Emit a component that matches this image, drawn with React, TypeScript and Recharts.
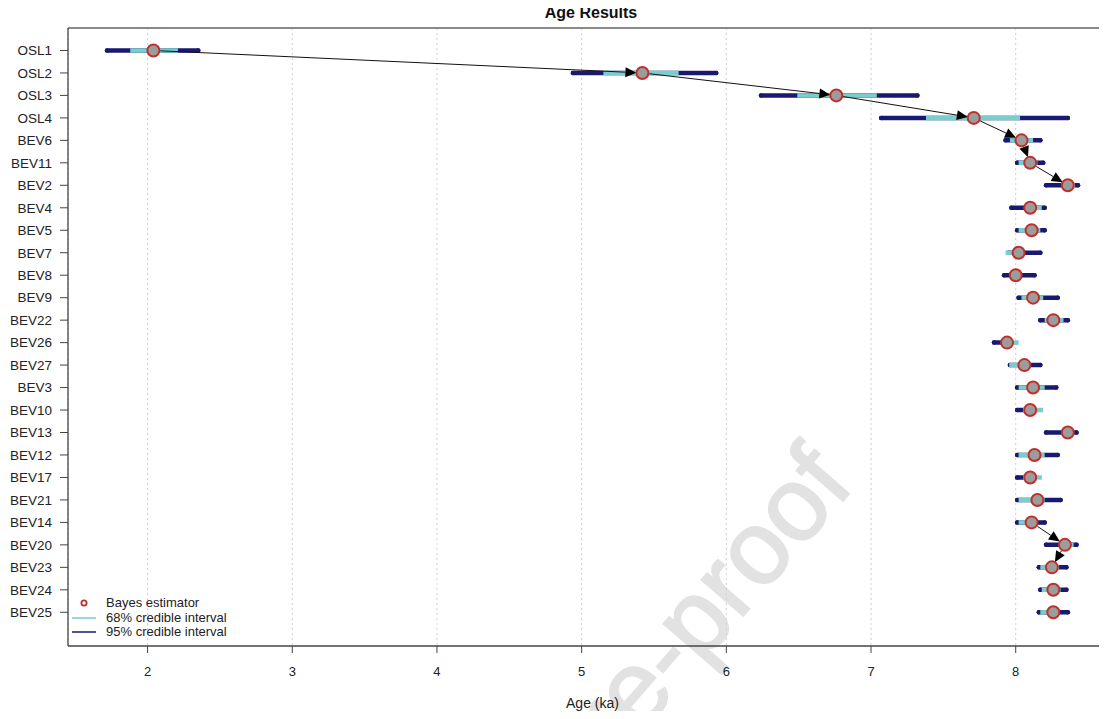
import React from "react";
import {
  ComposedChart,
  Scatter,
  ErrorBar,
  XAxis,
  YAxis,
  CartesianGrid,
  ReferenceLine,
  Legend,
} from "recharts";

// sample names, top to bottom
const samples = [
  "OSL1", "OSL2", "OSL3", "OSL4", "BEV6", "BEV11", "BEV2", "BEV4", "BEV5",
  "BEV7", "BEV8", "BEV9", "BEV22", "BEV26", "BEV27", "BEV3", "BEV10", "BEV13",
  "BEV12", "BEV17", "BEV21", "BEV14", "BEV20", "BEV23", "BEV24", "BEV25",
];

// Bayes estimator (ka)
const estimate = [
  2.04, 5.42, 6.76, 7.71, 8.04, 8.10, 8.36, 8.10, 8.11, 8.02, 8.00, 8.12, 8.26,
  7.94, 8.06, 8.12, 8.10, 8.36, 8.13, 8.10, 8.15, 8.11, 8.34, 8.25, 8.26, 8.26,
];

// 68% credible interval
const ci68Low = [
  1.88, 5.15, 6.49, 7.38, 7.96, 8.02, 8.33, 8.06, 8.02, 7.93, 7.96, 8.04, 8.20,
  7.90, 7.955, 8.02, 8.05, 8.32, 8.02, 8.05, 8.02, 8.02, 8.31, 8.17, 8.18, 8.17,
];
const ci68High = [
  2.21, 5.67, 7.04, 8.03, 8.12, 8.15, 8.41, 8.18, 8.17, 8.03, 8.03, 8.19, 8.33,
  8.02, 8.09, 8.20, 8.19, 8.39, 8.20, 8.18, 8.20, 8.14, 8.40, 8.30, 8.31, 8.29,
];

// 95% credible interval
const ci95Low = [
  1.72, 4.94, 6.24, 7.07, 7.93, 8.01, 8.21, 7.97, 8.01, 7.95, 7.92, 8.02, 8.17,
  7.85, 7.96, 8.01, 8.01, 8.21, 8.01, 8.01, 8.01, 8.01, 8.21, 8.16, 8.17, 8.16,
];
const ci95High = [
  2.35, 5.93, 7.32, 8.36, 8.17, 8.19, 8.43, 8.20, 8.20, 8.17, 8.13, 8.29, 8.36,
  7.96, 8.17, 8.28, 8.10, 8.42, 8.29, 8.10, 8.31, 8.20, 8.42, 8.35, 8.35, 8.36,
];

// stratigraphic order arrows (sample index -> sample index)
const arrowFrom = [0, 1, 2, 3, 4, 5, 21, 22];
const arrowTo = [1, 2, 3, 4, 5, 6, 22, 23];

const xTicks = [2, 3, 4, 5, 6, 7, 8];
const legendLabels = ["Bayes estimator", "68% credible interval", "95% credible interval"];

const FONT = '"Liberation Sans", Arial, sans-serif';
const NAVY = "#191970";
const CYAN = "#79cdcd";
const RED = "#c0302a";

const rows = samples.map((name, i) => ({
  name,
  row: i + 1,
  age: estimate[i],
  err95: [estimate[i] - ci95Low[i], ci95High[i] - estimate[i]],
  err68: [estimate[i] - ci68Low[i], ci68High[i] - estimate[i]],
}));

function Arrow(props: any) {
  const { x1, y1, x2, y2 } = props;
  const dx = x2 - x1;
  const dy = y2 - y1;
  const len = Math.sqrt(dx * dx + dy * dy) || 1;
  const ux = dx / len;
  const uy = dy / len;
  const sx = x1 + ux * 7;
  const sy = y1 + uy * 7;
  const tx = x2 - ux * 6;
  const ty = y2 - uy * 6;
  const hl = 11;
  const hw = 5;
  const bx = tx - ux * hl;
  const by = ty - uy * hl;
  return (
    <g>
      <line x1={sx} y1={sy} x2={bx} y2={by} stroke="#111" strokeWidth={1} />
      <polygon
        points={`${tx},${ty} ${bx - uy * hw},${by + ux * hw} ${bx + uy * hw},${by - ux * hw}`}
        fill="#000"
      />
    </g>
  );
}

function LegendBox() {
  return (
    <div style={{ fontFamily: FONT, fontSize: 13, lineHeight: "14.5px", color: "#222" }}>
      {legendLabels.map((label, i) => (
        <div key={label} style={{ display: "flex", alignItems: "center", height: 14.5 }}>
          <svg width={36} height={14}>
            {i === 0 && <circle cx={14} cy={7} r={2.6} fill="#fff" stroke={RED} strokeWidth={1.8} />}
            {i === 1 && <line x1={2} x2={26} y1={7} y2={7} stroke={CYAN} strokeWidth={1.5} />}
            {i === 2 && <line x1={2} x2={26} y1={7} y2={7} stroke={NAVY} strokeWidth={1.5} />}
          </svg>
          <span>{label}</span>
        </div>
      ))}
    </div>
  );
}

export default function App() {
  return (
    <div
      style={{
        position: "relative",
        margin: -8,
        width: 1107,
        height: 719,
        overflow: "hidden",
        background: "#fff",
        fontFamily: FONT,
      }}
    >
      {/* watermark sits behind the chart */}
      <svg
        width={1107}
        height={719}
        style={{ position: "absolute", left: 0, top: 0, pointerEvents: "none" }}
      >
        <text
          x={856}
          y={486}
          transform="rotate(-49 856 486)"
          textAnchor="end"
          fontFamily={FONT}
          fontSize={104}
          stroke="#e2e2e2"
          strokeWidth={2}
          fill="#e2e2e2"
        >
          Journal Pre-proof
        </text>
      </svg>
      <ComposedChart
        width={1130}
        height={719}
        data={rows}
        margin={{ top: 28, right: 13, bottom: 0, left: 8 }}
      >
        <CartesianGrid horizontal={false} strokeDasharray="2 3" stroke="#cfcfcf" />
        <XAxis
          type="number"
          dataKey="age"
          domain={[1.45, 8.7]}
          ticks={xTicks}
          allowDataOverflow
          height={73}
          tickSize={7}
          tickMargin={14}
          tick={{ fill: "#222", fontSize: 13, fontFamily: FONT }}
          axisLine={{ stroke: "#444", strokeWidth: 1.3 }}
          tickLine={{ stroke: "#444" }}
          label={{
            value: "Age (ka)",
            position: "insideBottom",
            offset: 11,
            fill: "#222",
            fontSize: 14,
            fontFamily: FONT,
          }}
        />
        <YAxis
          type="number"
          dataKey="row"
          domain={[0, 27.5]}
          reversed
          ticks={rows.map((r) => r.row)}
          interval={0}
          width={60}
          tickSize={8}
          tickMargin={8}
          tickFormatter={(v) => samples[v - 1] ?? ""}
          tick={{ fill: "#222", fontSize: 13.5, fontFamily: FONT }}
          axisLine={{ stroke: "#444", strokeWidth: 1.3 }}
          tickLine={{ stroke: "#444" }}
        />
        <ReferenceLine y={0} stroke="#8a8a8a" strokeWidth={2} />
        <Legend
          layout="vertical"
          align="center"
          verticalAlign="middle"
          wrapperStyle={{ left: 70, top: 596, width: 260 }}
          content={() => <LegendBox />}
        />
        <Scatter
          data={rows}
          dataKey="age"
          isAnimationActive={false}
          shape={(p: any) => (
            <circle cx={p.cx} cy={p.cy} r={6} fill="#9c9c9c" stroke={RED} strokeWidth={2} />
          )}
        >
          <ErrorBar
            dataKey="err95"
            direction="x"
            width={0}
            stroke={NAVY}
            strokeWidth={4.5}
            strokeLinecap="round"
            isAnimationActive={false}
          />
          <ErrorBar
            dataKey="err68"
            direction="x"
            width={0}
            stroke={CYAN}
            strokeWidth={4.5}
            isAnimationActive={false}
          />
        </Scatter>
        {arrowFrom.map((f, k) => (
          <ReferenceLine
            key={`arrow-${k}`}
            segment={[
              { x: estimate[f], y: f + 1 },
              { x: estimate[arrowTo[k]], y: arrowTo[k] + 1 },
            ]}
            shape={(p: any) => <Arrow {...p} />}
          />
        ))}
      </ComposedChart>
      <svg
        width={1107}
        height={30}
        style={{ position: "absolute", left: 0, top: 0, pointerEvents: "none" }}
      >
        <text
          x={591}
          y={17.5}
          textAnchor="middle"
          fontFamily={FONT}
          fontWeight="bold"
          fontSize={16}
          fill="#111"
        >
          Age Results
        </text>
      </svg>
    </div>
  );
}
